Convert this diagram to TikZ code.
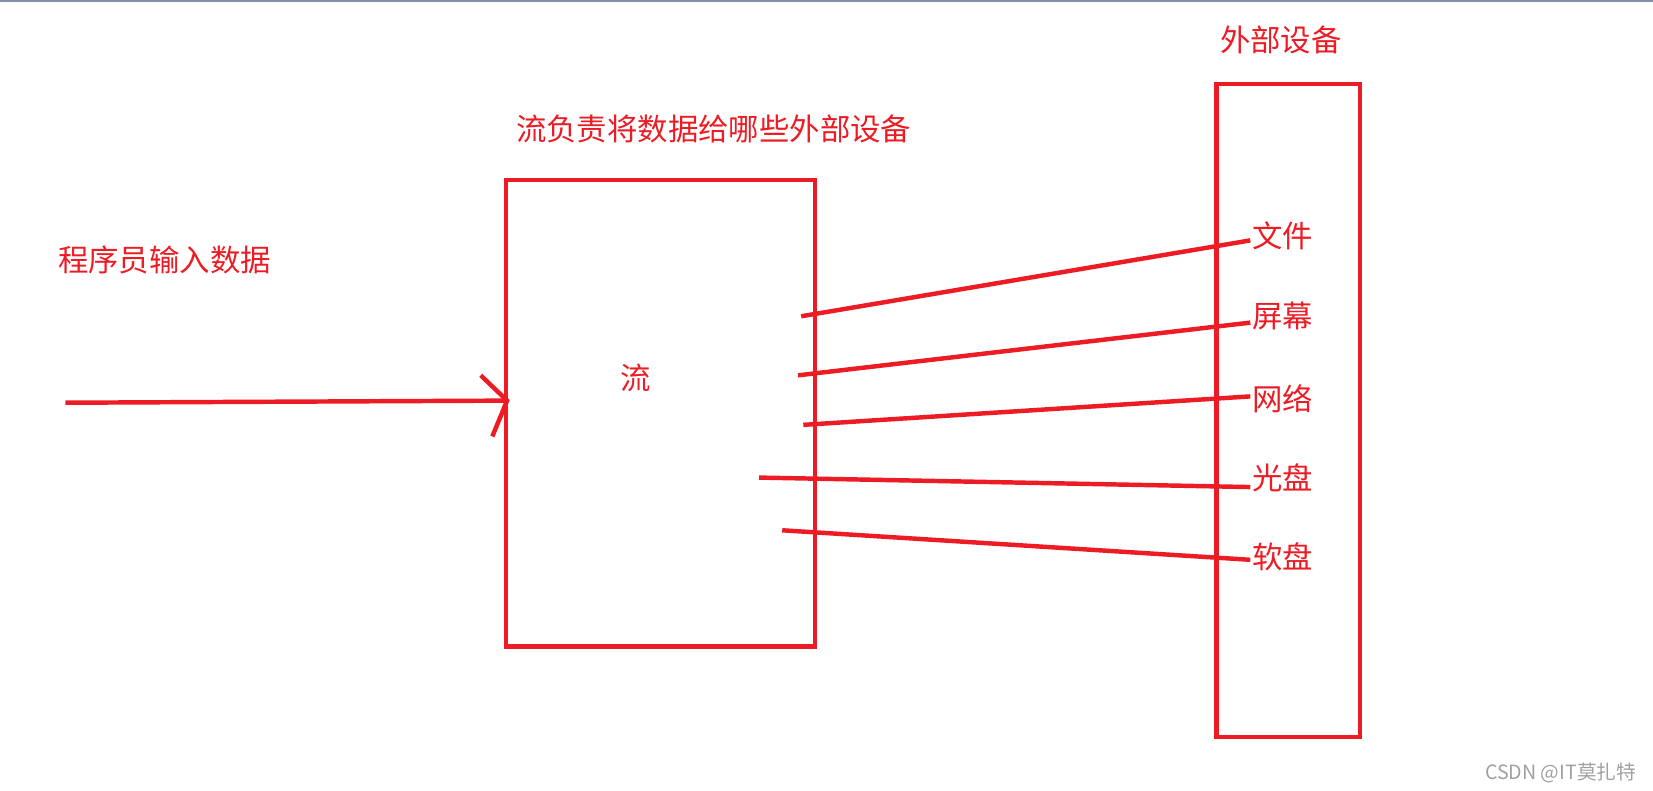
\documentclass[tikz,border=0pt]{standalone}
\usepackage{fontspec}
\newfontfamily\cjk{Noto Sans CJK SC}
\definecolor{hongse}{RGB}{237,28,36}
\definecolor{shuiyin}{RGB}{160,160,160}
\definecolor{bianxian}{RGB}{130,146,168}

\begin{document}
\begin{tikzpicture}[x=0.01cm,y=-0.01cm,hongse,line width=1.2pt,
	wenzi/.style={font=\cjk\fontsize{8.2}{10}\selectfont, inner sep=0pt}]
			\useasboundingbox (0,0) rectangle (1568,749.4);
			\draw[bianxian, line width=0.5pt] (0,0.6) -- (1568,0.6);
			% two boxes
			\node[draw, minimum width=2.93cm, minimum height=4.42cm] (liu) at (626.5,392) {};
			\node[draw, minimum width=1.36cm, minimum height=6.19cm] (shebei) at (1222,389.5) {};
			% texts
			\node[wenzi] (waibu) at (1215,38) {外部设备};
			\node[wenzi] (zeren) at (677,122) {流负责将数据给哪些外部设备};
			\node[wenzi] (chengxu) at (156,247) {程序员输入数据};
			\node[wenzi] (liuzi) at (603,358) {流};
			\node[wenzi] (wenjian) at (1217,224) {文件};
			\node[wenzi] (pingmu) at (1217,300) {屏幕};
			\node[wenzi] (wangluo) at (1217,378) {网络};
			\node[wenzi] (guangpan) at (1217,453) {光盘};
			\node[wenzi] (ruanpan) at (1217,528) {软盘};
			\node[font=\cjk\fontsize{5.3}{6}\selectfont, shuiyin, anchor=east, inner sep=0pt] (csdn) at (1554,733) {CSDN @IT莫扎特};
			% input arrow
			\coordinate (qidian) at (62,382);
			\coordinate (jian) at (481,380);
			\draw (qidian) -- (jian);
			\draw (456,356) -- (jian) -- (467,414);
			% lines to the devices
			\coordinate (a1) at (760,300);
			\coordinate (a2) at (757,356);
			\coordinate (a3) at (762,403);
			\coordinate (a4) at (720,453);
			\coordinate (a5) at (742,503);
			\draw (a1) -- ([yshift=-0.04cm]wenjian.west);
			\draw (a2) -- ([yshift=-0.06cm]pingmu.west);
			\draw (a3) -- ([yshift=0.02cm]wangluo.west);
			\draw (a4) -- ([yshift=-0.09cm]guangpan.west);
			\draw (a5) -- ([yshift=-0.03cm]ruanpan.west);
%			\draw (a1) -- (wenjian);
		\end{tikzpicture}
\end{document}
